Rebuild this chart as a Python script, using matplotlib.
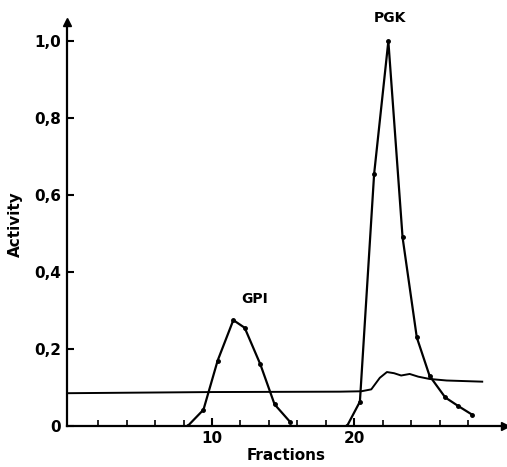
import matplotlib
matplotlib.use("Agg")
from matplotlib import pyplot as plt

# Datos
gpi_frac = [8.3, 9.4, 10.4, 11.5, 12.3, 13.4, 14.4, 15.5]
gpi_act = [0.0, 0.042, 0.17, 0.275, 0.255, 0.16, 0.056, 0.01]

pgk_frac = [19.5, 20.4, 21.4, 22.4, 23.4, 24.4, 25.3, 26.4, 27.3, 28.3]
pgk_act = [0.0, 0.063, 0.655, 1.0, 0.49, 0.23, 0.13, 0.074, 0.052, 0.029]

# Curva de absorbancia (sin puntos)
base_frac = [-0.2, 10, 19.0, 20.5, 21.2, 21.8, 22.3, 22.8, 23.3, 23.9, 24.5, 25.3, 26.5, 29.0]
base_act = [0.085, 0.088, 0.089, 0.09, 0.095, 0.125, 0.14, 0.137, 0.131, 0.135, 0.128, 0.122, 0.118, 0.115]

yticks = [0, 0.2, 0.4, 0.6, 0.8, 1.0]
ytick_labels = ["0", "0,2", "0,4", "0,6", "0,8", "1,0"]
xticks_major = [10, 20]
xticks_minor = [2, 4, 6, 8, 12, 14, 16, 18, 22, 24, 26, 28]

fig = plt.figure(figsize=(5.07, 4.67), dpi=100)
ax = fig.add_axes([0.132, 0.088, 0.864, 0.865])

ax.plot(base_frac, base_act, "k-", lw=1.4)
ax.plot(gpi_frac, gpi_act, "k-", lw=1.6, marker="o", ms=2.5)
ax.plot(pgk_frac, pgk_act, "k-", lw=1.6, marker="o", ms=2.5)

ax.set_xlim(-0.2, 30.6)
ax.set_ylim(0, 1.05)

ax.spines["top"].set_visible(False)
ax.spines["right"].set_visible(False)
ax.spines["left"].set_linewidth(1.6)
ax.spines["bottom"].set_linewidth(1.6)

# flechas en los ejes
ax.plot(1, 0, ">k", ms=6, transform=ax.transAxes, clip_on=False)
ax.plot(0, 1, "^k", ms=6, transform=ax.transAxes, clip_on=False)

ax.set_yticks(yticks)
ax.set_yticklabels(ytick_labels, fontsize=11, fontweight="bold")
ax.set_xticks(xticks_major)
ax.set_xticklabels([str(t) for t in xticks_major], fontsize=11, fontweight="bold")
ax.set_xticks(xticks_minor, minor=True)
ax.tick_params(axis="y", direction="in", length=5, width=1.5, pad=4)
ax.tick_params(axis="x", which="major", direction="in", length=6, width=1.5, pad=4)
ax.tick_params(axis="x", which="minor", direction="in", length=4, width=1.2)

ax.set_xlabel("Fractions", fontsize=11, fontweight="bold", labelpad=1)
ax.set_ylabel("Activity", fontsize=11, fontweight="bold", labelpad=8)

ax.text(13.0, 0.33, "GPI", fontsize=10, fontweight="bold", ha="center", va="center")
ax.text(22.5, 1.06, "PGK", fontsize=10, fontweight="bold", ha="center", va="center", clip_on=False)

fig.savefig("out.png", dpi=100)
